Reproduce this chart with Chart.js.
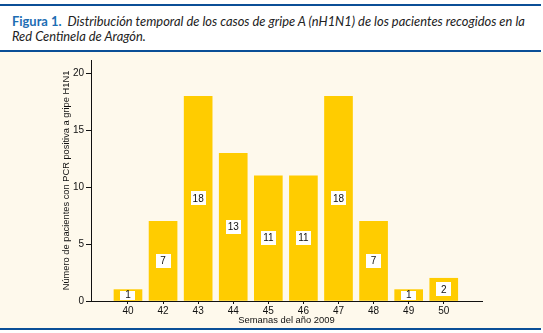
<!DOCTYPE html>
<html>
<head>
<meta charset="utf-8">
<script src="https://cdn.jsdelivr.net/npm/chart.js@4"></script>
<style>
  body { margin: 0; width: 543px; height: 333px; background: #fff; position: relative; overflow: hidden; }
  .rule { position: absolute; left: 0; width: 541px; height: 2px; background: #0b4f97; }
  .caption { position: absolute; left: 12px; top: 14px; font-family: Lato, sans-serif; font-size: 12.9px; line-height: 15px; color: #222; font-style: italic; white-space: nowrap; }
  .caption b { font-style: normal; color: #1c6db3; }
  .panel { position: absolute; left: 0; top: 52px; width: 543px; height: 276px; background: #fef9ec; }
</style>
</head>
<body>
<div class="rule" style="top:4px"></div>
<div class="caption"><b>Figura 1.</b>&nbsp; Distribución temporal de los casos de gripe A (nH1N1) de los pacientes recogidos en la<br>Red Centinela de Aragón.</div>
<div class="rule" style="top:50px"></div>
<div class="panel"><canvas id="weekChart" width="543" height="275"></canvas></div>
<div class="rule" style="top:328px"></div>

<script>
// weeks of 2009 with positive H1N1 PCR cases
const weeks = ['40', '42', '43', '44', '45', '46', '47', '48', '49', '50'];
const cases = [1, 7, 18, 13, 11, 11, 18, 7, 1, 2];
const yTicks = [0, 5, 10, 15, 20];

Chart.defaults.font.family = '"Liberation Sans", Arial, sans-serif';
Chart.defaults.font.size = 10;
Chart.defaults.color = '#111';

// white value box in the middle of each bar
const barLabels = {
  id: 'barLabels',
  afterDatasetsDraw(chart) {
    const ctx = chart.ctx;
    const meta = chart.getDatasetMeta(0);
    ctx.save();
    ctx.font = '10px "Liberation Sans", Arial, sans-serif';
    ctx.textAlign = 'center';
    ctx.textBaseline = 'middle';
    meta.data.forEach((bar, i) => {
      const h = bar.base - bar.y;
      const bh = Math.min(14, h - 2);
      const cy = (bar.y + bar.base) / 2;
      ctx.fillStyle = '#fff';
      ctx.fillRect(Math.round(bar.x - 7.5), Math.round(cy - bh / 2), 15, Math.round(bh));
      ctx.fillStyle = '#111';
      ctx.fillText(String(cases[i]), bar.x, cy + 0.5);
    });
    ctx.restore();
  }
};

const ctx = document.getElementById('weekChart');

new Chart(ctx, {
  type: 'bar',
  data: {
    datasets: [{
      data: cases.map((v, i) => ({ x: i, y: v })),
      backgroundColor: '#ffcc00',
      borderWidth: 0,
      barThickness: 28
    }]
  },
  options: {
    responsive: false,
    animation: false,
    layout: { padding: { top: 7, right: 61, left: 0, bottom: 0 } },
    plugins: {
      legend: { display: false },
      tooltip: { enabled: false }
    },
    scales: {
      x: {
        type: 'linear',
        min: -1.054,
        max: 10.09,
        offset: false,
        afterBuildTicks: s => { s.ticks = weeks.map((w, i) => ({ value: i })); },
        afterFit: s => { s.height = 26; },
        grid: { offset: false, drawOnChartArea: false, drawTicks: true, tickLength: 3, color: '#111' },
        border: { color: '#111', width: 1 },
        ticks: {
          callback: v => weeks[v],
          padding: 1,
          maxRotation: 0,
          autoSkip: false
        },
        title: {
          display: true,
          text: 'Semanas del año 2009',
          font: { size: 9.4 },
          padding: { top: 0, bottom: 1 }
        }
      },
      y: {
        min: 0,
        max: 21.2,
        afterBuildTicks: s => { s.ticks = yTicks.map(v => ({ value: v })); },
        afterFit: s => { s.width = 91; },
        grid: { drawOnChartArea: false, drawTicks: true, tickLength: 5, color: '#111' },
        border: { color: '#111', width: 1 },
        ticks: { padding: 2 },
        title: {
          display: true,
          text: 'Número de pacientes con PCR positiva a gripe H1N1',
          font: { size: 9.3 },
          padding: { top: 61, bottom: 0 }
        }
      }
    }
  },
  plugins: [barLabels]
});
</script>
</body>
</html>
